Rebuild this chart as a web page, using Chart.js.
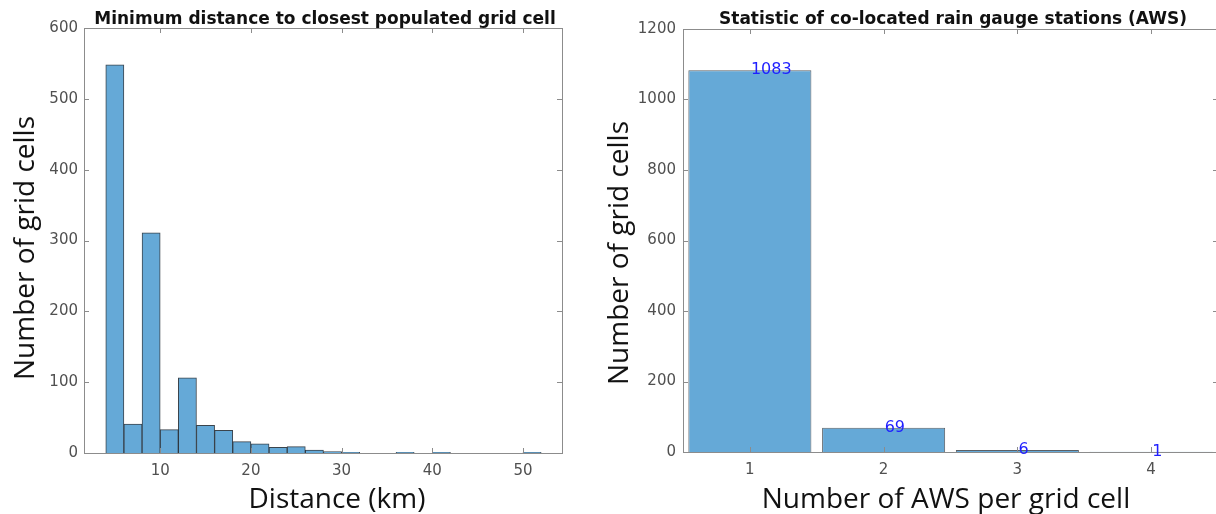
<!DOCTYPE html>
<html>
<head>
<meta charset="utf-8">
<script src="https://cdn.jsdelivr.net/npm/chart.js@4/dist/chart.umd.min.js"></script>
<style>
  html, body { margin: 0; padding: 0; background: #fff; overflow: hidden; width: 1216px; height: 514px; }
  canvas { position: absolute; top: 0; }
  .txt { position: absolute; white-space: nowrap; color: #000; transform: translate(-50%, -50%); }
  .title { font: bold 17px "DejaVu Sans"; color: #111; }
  .axt { font: 28px "Open Sans"; color: #111; }
  .rot { transform: translate(-50%, -50%) rotate(-90deg); }
</style>
</head>
<body>
<canvas id="distChart" width="600" height="514" style="left:0"></canvas>
<canvas id="awsChart" width="640" height="514" style="left:600px"></canvas>

<div class="txt title" style="left:325px;top:18px">Minimum distance to closest populated grid cell</div>
<div class="txt title" style="left:953px;top:18px">Statistic of co-located rain gauge stations (AWS)</div>
<div class="txt axt" style="left:337px;top:497px">Distance (km)</div>
<div class="txt axt" style="left:946px;top:497px">Number of AWS per grid cell</div>
<div class="txt axt rot" style="left:23px;top:248px">Number of grid cells</div>
<div class="txt axt rot" style="left:617px;top:253px">Number of grid cells</div>

<script>
// histogram of distances, bins of 2 km
const distEdges = [4, 6, 8, 10, 12, 14, 16, 18, 20, 22, 24, 26, 28, 30, 32, 34, 36, 38, 40, 42, 44, 46, 48, 50, 52];
const distCounts = [548, 41, 311, 33, 106, 39, 32, 16, 13, 8, 9, 4, 2, 1, 0, 0, 1, 0, 1, 0, 0, 0, 0, 1];
const distTicks = [10, 20, 30, 40, 50];

// co-located stations
const awsCategories = ['1', '2', '3', '4'];
const awsCounts = [1083, 69, 6, 1];

const BAR_FILL = '#65a9d7';
const TICK_FONT = { family: 'DejaVu Sans', size: 15 };
const TICK_COLOR = '#505050';
const plain = (v) => String(v);

// matlab-like box with inward ticks
const frame = {
  id: 'frame',
  afterDatasetsDraw(chart) {
    const { ctx, chartArea: a, scales: { x, y } } = chart;
    ctx.save();
    ctx.strokeStyle = '#8c8c8c';
    ctx.lineWidth = 1;
    ctx.strokeRect(Math.round(a.left) + 0.5, Math.round(a.top) + 0.5, Math.round(a.right - a.left), Math.round(a.bottom - a.top));
    ctx.beginPath();
    x.ticks.forEach((t, i) => {
      const px = Math.round(x.getPixelForTick(i)) + 0.5;
      ctx.moveTo(px, a.bottom); ctx.lineTo(px, a.bottom - 5);
      ctx.moveTo(px, a.top); ctx.lineTo(px, a.top + 5);
    });
    y.ticks.forEach((t, i) => {
      const py = Math.round(y.getPixelForTick(i)) + 0.5;
      ctx.moveTo(a.left, py); ctx.lineTo(a.left + 5, py);
      ctx.moveTo(a.right, py); ctx.lineTo(a.right - 5, py);
    });
    ctx.stroke();
    ctx.restore();
  }
};

const barLabels = {
  id: 'barLabels',
  afterDraw(chart) {
    const { ctx } = chart;
    const meta = chart.getDatasetMeta(0);
    ctx.save();
    ctx.font = '16px "DejaVu Sans"';
    ctx.fillStyle = '#1f1fff';
    ctx.textAlign = 'left';
    ctx.textBaseline = 'middle';
    meta.data.forEach((bar, i) => ctx.fillText(String(awsCounts[i]), bar.x + 1, bar.y));
    ctx.restore();
  }
};

const histData = distCounts.map((c, i) => ({ x: (distEdges[i] + distEdges[i + 1]) / 2, y: c === 0 ? null : c }));

new Chart(document.getElementById('distChart'), {
  type: 'bar',
  data: {
    datasets: [{
      data: histData,
      backgroundColor: BAR_FILL,
      borderColor: 'rgba(25,35,45,0.85)',
      borderWidth: 1,
      barPercentage: 1,
      categoryPercentage: 1
    }]
  },
  options: {
    responsive: false,
    animation: false,
    layout: { padding: { top: 28, right: 38, left: 0, bottom: 0 } },
    plugins: { legend: { display: false }, tooltip: { enabled: false } },
    scales: {
      x: {
        type: 'linear',
        offset: false,
        min: 1.6,
        max: 54.3,
        grid: { display: false, drawTicks: false, offset: false },
        border: { display: false },
        afterBuildTicks: (s) => { s.ticks = distTicks.map((v) => ({ value: v })); },
        afterFit: (s) => { s.height = 61; },
        ticks: { font: TICK_FONT, color: TICK_COLOR, padding: 9, maxRotation: 0, callback: plain }
      },
      y: {
        min: 0,
        max: 600,
        grid: { display: false, drawTicks: false },
        border: { display: false },
        afterFit: (s) => { s.width = 84; },
        ticks: { stepSize: 100, font: TICK_FONT, color: TICK_COLOR, padding: 6, callback: plain }
      }
    }
  },
  plugins: [frame]
});

new Chart(document.getElementById('awsChart'), {
  type: 'bar',
  data: {
    labels: awsCategories,
    datasets: [{
      data: awsCounts,
      backgroundColor: BAR_FILL,
      borderColor: '#5a6066',
      borderWidth: 1,
      barPercentage: 0.92,
      categoryPercentage: 1
    }]
  },
  options: {
    responsive: false,
    animation: false,
    layout: { padding: { top: 29, right: 22, left: 0, bottom: 0 } },
    plugins: { legend: { display: false }, tooltip: { enabled: false } },
    scales: {
      x: {
        grid: { display: false, drawTicks: false },
        border: { display: false },
        afterFit: (s) => { s.height = 62; },
        ticks: { font: TICK_FONT, color: TICK_COLOR, padding: 9 }
      },
      y: {
        min: 0,
        max: 1200,
        grid: { display: false, drawTicks: false },
        border: { display: false },
        afterFit: (s) => { s.width = 83; },
        ticks: { stepSize: 200, font: TICK_FONT, color: TICK_COLOR, padding: 7, callback: plain }
      }
    }
  },
  plugins: [frame, barLabels]
});
</script>
</body>
</html>
